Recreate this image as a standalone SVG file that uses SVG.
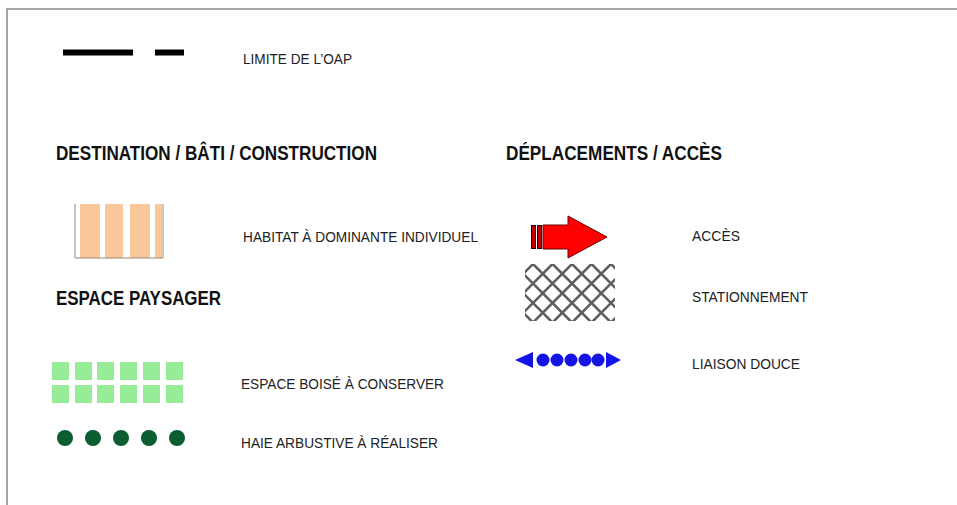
<svg xmlns="http://www.w3.org/2000/svg" width="957" height="505" viewBox="0 0 957 505">
<defs>
<style>
.h{font-family:"Liberation Sans",Arial,sans-serif;font-weight:bold;font-size:19.5px;fill:#111}
.t{font-family:"Liberation Sans",Arial,sans-serif;font-size:15px;fill:#222}
.frame{stroke:#8a8a8a;stroke-width:1.5;fill:none}
.sq{fill:#98EC98}
.hd{fill:#0A5E2F}
.bl{fill:#1414E6}
</style>
<clipPath id="hatchClip"><rect x="525" y="264" width="90" height="57"/></clipPath>
</defs>
<rect width="957" height="505" fill="#fff"/>
<path class="frame" d="M7,505 V9 H957"/>

<g id="limite">
<rect x="63" y="49.5" width="70" height="6" fill="#000"/>
<rect x="155" y="49.5" width="29" height="6" fill="#000"/>
<text class="t" x="243" y="64" textLength="109" lengthAdjust="spacingAndGlyphs">LIMITE DE L’OAP</text>
</g>

<g id="titre-destination">
<text class="h" x="56" y="160" textLength="321" lengthAdjust="spacingAndGlyphs">DESTINATION / BÂTI / CONSTRUCTION</text>
</g>
<g id="titre-deplacements">
<text class="h" x="506" y="160" textLength="216" lengthAdjust="spacingAndGlyphs">DÉPLACEMENTS / ACCÈS</text>
</g>

<g id="habitat">
<rect x="75" y="203" width="88" height="55" fill="#fff"/>
<rect x="80" y="204" width="20" height="54" fill="#F9C79A"/>
<rect x="105" y="204" width="18" height="54" fill="#F9C79A"/>
<rect x="130" y="204" width="20" height="54" fill="#F9C79A"/>
<rect x="155" y="204" width="7" height="54" fill="#F9C79A"/>
<path d="M75,204 V258 H163 V204" fill="none" stroke="#9a8a7a" stroke-width="1"/>
<text class="t" x="243" y="242" textLength="235" lengthAdjust="spacingAndGlyphs">HABITAT À DOMINANTE INDIVIDUEL</text>
</g>

<g id="titre-paysager">
<text class="h" x="56" y="305" textLength="165" lengthAdjust="spacingAndGlyphs">ESPACE PAYSAGER</text>
</g>

<g id="espace-boise">
<rect class="sq" x="52" y="362" width="17" height="18"/>
<rect class="sq" x="75" y="362" width="17" height="18"/>
<rect class="sq" x="97" y="362" width="17" height="18"/>
<rect class="sq" x="120" y="362" width="17" height="18"/>
<rect class="sq" x="143" y="362" width="17" height="18"/>
<rect class="sq" x="166" y="362" width="17" height="18"/>
<rect class="sq" x="52" y="385" width="17" height="18"/>
<rect class="sq" x="75" y="385" width="17" height="18"/>
<rect class="sq" x="97" y="385" width="17" height="18"/>
<rect class="sq" x="120" y="385" width="17" height="18"/>
<rect class="sq" x="143" y="385" width="17" height="18"/>
<rect class="sq" x="166" y="385" width="17" height="18"/>
<text class="t" x="241" y="389" textLength="203" lengthAdjust="spacingAndGlyphs">ESPACE BOISÉ À CONSERVER</text>
</g>

<g id="haie">
<circle class="hd" cx="65" cy="438" r="8"/>
<circle class="hd" cx="93" cy="438" r="8"/>
<circle class="hd" cx="121" cy="438" r="8"/>
<circle class="hd" cx="149" cy="438" r="8"/>
<circle class="hd" cx="177" cy="438" r="8"/>
<text class="t" x="241" y="448" textLength="197" lengthAdjust="spacingAndGlyphs">HAIE ARBUSTIVE À RÉALISER</text>
</g>

<g id="acces">
<rect x="531.5" y="225.5" width="4" height="23" fill="#C00000" stroke="#200" stroke-width="1"/>
<rect x="537.5" y="225.5" width="4" height="23" fill="#C00000" stroke="#200" stroke-width="1"/>
<path d="M543,225 H568 V216 L607,237 L568,258 V249 H543 Z" fill="#FF0000" stroke="#6a0000" stroke-width="1"/>
<text class="t" x="692" y="241" textLength="48" lengthAdjust="spacingAndGlyphs">ACCÈS</text>
</g>

<g id="stationnement">
<g clip-path="url(#hatchClip)" stroke="#5f5f5f" stroke-width="2.6" fill="none">
<path d="M460.5,250 L545.5,335 M480,250 L565,335 M499.5,250 L584.5,335 M519,250 L604,335 M538.5,250 L623.5,335 M558,250 L643,335 M577.5,250 L662.5,335 M597,250 L682,335"/>
<path d="M547,250 L462,335 M566.5,250 L481.5,335 M586,250 L501,335 M605.5,250 L520.5,335 M625,250 L540,335 M644.5,250 L559.5,335 M664,250 L579,335 M683.5,250 L598.5,335"/>
</g>
<text class="t" x="692" y="302" textLength="116" lengthAdjust="spacingAndGlyphs">STATIONNEMENT</text>
</g>

<g id="liaison-douce">
<polygon class="bl" points="515,360 533,352 533,368"/>
<circle class="bl" cx="543" cy="360" r="6.5"/>
<circle class="bl" cx="557" cy="360" r="6.5"/>
<circle class="bl" cx="571" cy="360" r="6.5"/>
<circle class="bl" cx="585" cy="360" r="6.5"/>
<circle class="bl" cx="598" cy="360" r="6.5"/>
<polygon class="bl" points="621,360 606,352 606,368"/>
<text class="t" x="692" y="369" textLength="108" lengthAdjust="spacingAndGlyphs">LIAISON DOUCE</text>
</g>
</svg>
